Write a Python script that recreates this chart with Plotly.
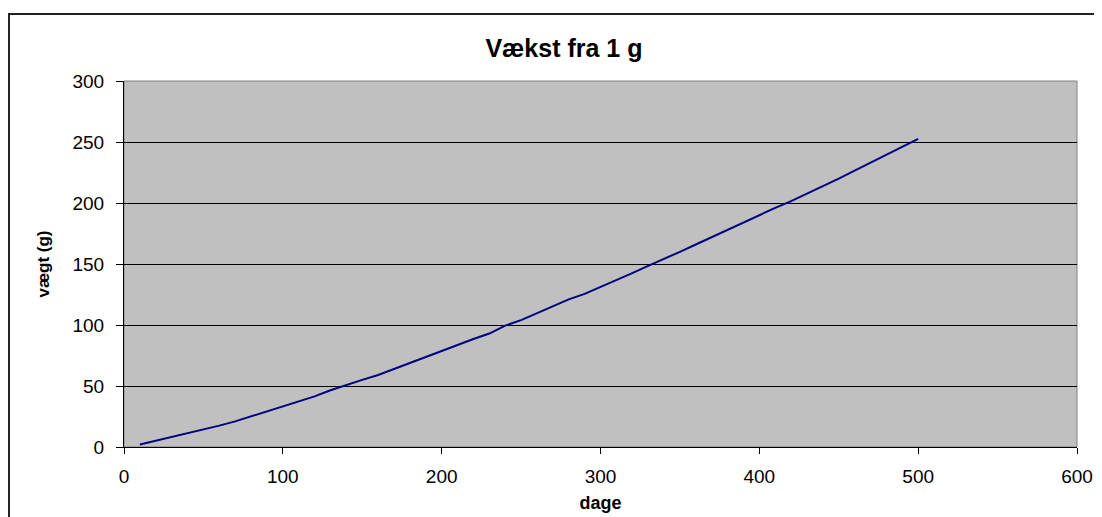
import plotly.graph_objects as go

# days and weight (g)
dage = [10, 20, 30, 40, 50, 60, 70, 80, 90, 100,
        110, 120, 130, 140, 150, 160, 170, 180, 190, 200,
        210, 220, 230, 240, 250, 260, 270, 280, 290, 300,
        310, 320, 330, 340, 350, 360, 370, 380, 390, 400,
        410, 420, 430, 440, 450, 460, 470, 480, 490, 500]
vaegt = [2, 5, 8, 11, 14.5, 17.5, 21, 25, 29, 33,
         37, 41.5, 46.5, 51, 55, 59, 64, 69, 74, 79,
         84, 88.5, 93, 99.5, 104, 109.5, 115, 121, 125.5, 131,
         137, 142.5, 148.5, 154, 160, 166, 172, 178, 184.5, 190.5,
         196, 201.5, 207.5, 213.5, 220, 226.5, 233, 239.5, 246, 252.5]

x_ticks = [0, 100, 200, 300, 400, 500, 600]
y_ticks = [0, 50, 100, 150, 200, 250, 300]

FONT = "Liberation Sans, Arial, sans-serif"

fig = go.Figure()
fig.add_trace(go.Scatter(
    x=dage, y=vaegt, mode="lines",
    line=dict(color="#000080", width=2),
    showlegend=False, hoverinfo="x+y",
))

# plot area border (grey) and outer chart frame
fig.add_shape(type="rect", xref="paper", yref="paper", x0=0, y0=0, x1=1, y1=1,
              line=dict(color="#808080", width=1), layer="below")
fig.add_shape(type="rect", xref="paper", yref="paper",
              x0=-0.1207, y0=-0.25, x1=1.06, y1=1.183,
              line=dict(color="#222222", width=2))

fig.update_layout(
    width=1102, height=517,
    margin=dict(l=116, r=33, t=73, b=78),
    paper_bgcolor="white",
    plot_bgcolor="#C0C0C0",
    font=dict(family=FONT, color="black", size=19),
    title=dict(text="<b>Vækst fra 1 g</b>", x=0.5045, xref="container",
               xanchor="center", y=1 - 40 / 517, yanchor="middle",
               font=dict(size=25, family=FONT, color="black")),
)

fig.update_xaxes(
    range=[0, 600], tickvals=x_ticks, showgrid=False, zeroline=False,
    showline=True, linecolor="black", linewidth=1,
    ticks="outside", ticklen=6, tickcolor="black",
    ticklabelstandoff=6,
    title=dict(text="<b>dage</b>", font=dict(size=18), standoff=10),
)
fig.update_yaxes(
    range=[0, 300], tickvals=y_ticks, showgrid=True, gridcolor="black",
    gridwidth=1, zeroline=False,
    showline=True, linecolor="black", linewidth=1,
    ticks="outside", ticklen=7, tickcolor="black",
    ticklabelstandoff=8,
    title=dict(text="<b>vægt (g)</b>", font=dict(size=17), standoff=18),
)

fig.write_html("out.html")
